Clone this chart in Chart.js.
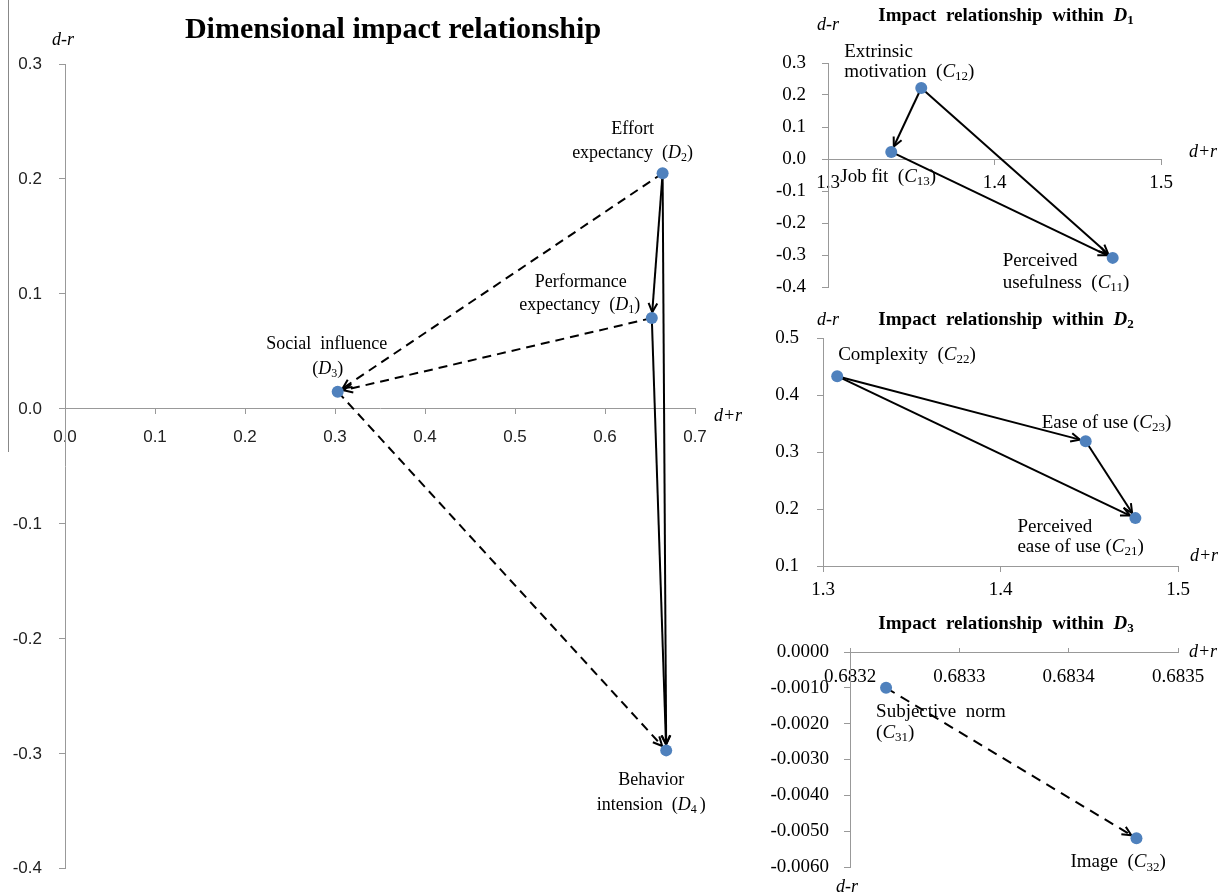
<!DOCTYPE html>
<html>
<head>
<meta charset="utf-8">
<script src="https://cdn.jsdelivr.net/npm/chart.js@4.4.1/dist/chart.umd.min.js"></script>
<style>
  html, body { margin: 0; padding: 0; background: #fff; }
  #wrap { position: relative; width: 1229px; height: 896px; overflow: hidden; background: #fff; }
  #wrap canvas { position: absolute; left: 0; top: 0; }
  #edge { position: absolute; left: 8px; top: 0; width: 1px; height: 452px; background: #888; }
</style>
</head>
<body>
<div id="wrap">
  <div id="edge"></div>
  <canvas id="mainChart" width="1229" height="896"></canvas>
  <canvas id="d1Chart" width="1229" height="896"></canvas>
  <canvas id="d2Chart" width="1229" height="896"></canvas>
  <canvas id="d3Chart" width="1229" height="896"></canvas>
</div>
<script>
// Данные: измерения D1..D4 (d+r, d-r)
const mainX = [0.652, 0.664, 0.303, 0.668];
const mainY = [0.079, 0.205, 0.015, -0.297];
const mainNames = [
    ['Performance', 'expectancy  (<i>D</i><sub>1</sub>)'],
    ['Effort', 'expectancy  (<i>D</i><sub>2</sub>)'],
    ['Social  influence', '(<i>D</i><sub>3</sub>)'],
    ['Behavior', 'intension  (<i>D</i><sub>4 </sub>)']
];
// [откуда, куда, пунктир]
const mainLinks = [[1, 0, false], [1, 3, false], [0, 3, false], [1, 2, true], [0, 2, true], [2, 3, true]];
const mainXTicks = ['0.0', '0.1', '0.2', '0.3', '0.4', '0.5', '0.6', '0.7'];
const mainYTicks = ['-0.4', '-0.3', '-0.2', '-0.1', '0.0', '0.1', '0.2', '0.3'];

// Внутри D1: C11, C12, C13
const d1X = [1.471, 1.356, 1.338];
const d1Y = [-0.309, 0.222, 0.022];
const d1Names = [
    ['Perceived', 'usefulness  (<i>C</i><sub>11</sub>)'],
    ['Extrinsic', 'motivation  (<i>C</i><sub>12</sub>)'],
    ['Job fit  (<i>C</i><sub>13</sub>)']
];
const d1Links = [[1, 2, false], [1, 0, false], [2, 0, false]];
const d1XTicks = ['1.3', '1.4', '1.5'];
const d1YTicks = ['-0.4', '-0.3', '-0.2', '-0.1', '0.0', '0.1', '0.2', '0.3'];

// Внутри D2: C21, C22, C23
const d2X = [1.476, 1.308, 1.448];
const d2Y = [0.184, 0.433, 0.319];
const d2Names = [
    ['Perceived', 'ease of use (<i>C</i><sub>21</sub>)'],
    ['Complexity  (<i>C</i><sub>22</sub>)'],
    ['Ease of use (<i>C</i><sub>23</sub>)']
];
const d2Links = [[1, 2, false], [1, 0, false], [2, 0, false]];
const d2XTicks = ['1.3', '1.4', '1.5'];
const d2YTicks = ['0.1', '0.2', '0.3', '0.4', '0.5'];

// Внутри D3: C31, C32
const d3X = [0.683233, 0.683462];
const d3Y = [-0.0010, -0.0052];
const d3Names = [
    ['Subjective  norm', '(<i>C</i><sub>31</sub>)'],
    ['Image  (<i>C</i><sub>32</sub>)']
];
const d3Links = [[0, 1, true]];
const d3XTicks = ['0.6832', '0.6833', '0.6834', '0.6835'];
const d3YTicks = ['-0.0060', '-0.0050', '-0.0040', '-0.0030', '-0.0020', '-0.0010', '0.0000'];

const W = 1229, H = 896;
const AXIS = '#999';
const SERIF = "'Liberation Serif', 'Times New Roman', serif";
const SANS = "'Liberation Sans', Arial, sans-serif";

// разбор строки с <i> и <sub>
function richParts(str) {
    const parts = [];
    const re = /<i>(.*?)<\/i>|<sub>(.*?)<\/sub>|([^<]+)/g;
    let m;
    while ((m = re.exec(str))) {
        if (m[1] !== undefined) parts.push({ t: m[1], k: 'i' });
        else if (m[2] !== undefined) parts.push({ t: m[2], k: 's' });
        else parts.push({ t: m[3], k: 'n' });
    }
    return parts;
}

function drawRich(ctx, str, x, y, size, align, bold) {
    const parts = richParts(str);
    const b = bold ? 'bold ' : '';
    const fontOf = k => {
        if (k === 'i') return `italic ${b}${size}px ${SERIF}`;
        if (k === 's') return `${b}${Math.round(size * 0.68)}px ${SERIF}`;
        return `${b}${size}px ${SERIF}`;
    };
    let total = 0;
    parts.forEach(p => {
        ctx.font = fontOf(p.k);
        p.w = ctx.measureText(p.t).width;
        total += p.w;
    });
    let cx = align === 'center' ? x - total / 2 : x;
    ctx.textAlign = 'left';
    ctx.textBaseline = 'middle';
    ctx.fillStyle = '#000';
    parts.forEach(p => {
        ctx.font = fontOf(p.k);
        ctx.fillText(p.t, cx, p.k === 's' ? y + size * 0.25 : y);
        cx += p.w;
    });
}

function drawArrow(ctx, x1, y1, x2, y2, dashed, dash) {
    const a = Math.atan2(y2 - y1, x2 - x1);
    const ex = x2 - Math.cos(a) * 6;
    const ey = y2 - Math.sin(a) * 6;
    ctx.save();
    ctx.strokeStyle = '#000';
    ctx.lineWidth = 2;
    ctx.setLineDash(dashed ? dash : []);
    ctx.beginPath();
    ctx.moveTo(x1, y1);
    ctx.lineTo(ex, ey);
    ctx.stroke();
    ctx.setLineDash([]);
    const h = 10, w = 0.45;
    ctx.beginPath();
    ctx.moveTo(ex - h * Math.cos(a - w), ey - h * Math.sin(a - w));
    ctx.lineTo(ex, ey);
    ctx.lineTo(ex - h * Math.cos(a + w), ey - h * Math.sin(a + w));
    ctx.stroke();
    ctx.restore();
}

// плагин: стрелки, подписи точек, заголовки
function makeNotes(cfg) {
    return {
        id: 'notes',
        beforeDatasetsDraw(chart) {
            const pts = chart.getDatasetMeta(0).data;
            cfg.links.forEach(([a, b, dashed]) => {
                drawArrow(chart.ctx, pts[a].x, pts[a].y, pts[b].x, pts[b].y, dashed, cfg.dash);
            });
        },
        afterDatasetsDraw(chart) {
            const ctx = chart.ctx;
            const pts = chart.getDatasetMeta(0).data;
            cfg.names.forEach((lines, i) => {
                lines.forEach((line, j) => {
                    const [dx, dy] = cfg.labelPos[i][j];
                    drawRich(ctx, line, pts[i].x + dx, pts[i].y + dy, cfg.labelSize, cfg.align, false);
                });
            });
            cfg.texts.forEach(t => drawRich(ctx, t.text, t.x, t.y, t.size, 'center', t.bold));
        }
    };
}

function makeChart(id, cfg) {
    const ctx = document.getElementById(id).getContext('2d');
    const [left, top, right, bottom] = cfg.area;
    return new Chart(ctx, {
        type: 'scatter',
        data: {
            datasets: [{
                data: cfg.xs.map((x, i) => ({ x: x, y: cfg.ys[i] })),
                pointRadius: 6,
                pointHoverRadius: 6,
                backgroundColor: '#4F81BD',
                borderColor: '#4F81BD',
                borderWidth: 0
            }]
        },
        options: {
            responsive: false,
            animation: false,
            events: [],
            layout: { padding: { left: left - cfg.yWidth, top: top, right: W - right, bottom: H - bottom } },
            plugins: { legend: { display: false }, tooltip: { enabled: false } },
            scales: {
                x: {
                    type: 'linear',
                    min: cfg.xMin, max: cfg.xMax,
                    position: { y: cfg.xAt },
                    grid: { drawOnChartArea: false, drawTicks: true, tickLength: cfg.xTickLen, color: AXIS },
                    border: { color: AXIS },
                    ticks: {
                        stepSize: cfg.xStep, autoSkip: false, maxRotation: 0,
                        padding: cfg.xPad, color: cfg.tickColor, font: cfg.tickFont,
                        callback: (v, i) => cfg.xTicks[i]
                    }
                },
                y: {
                    type: 'linear',
                    min: cfg.yMin, max: cfg.yMax,
                    position: 'left',
                    afterFit: s => { s.width = cfg.yWidth; },
                    grid: { drawOnChartArea: false, drawTicks: true, tickLength: 6, color: AXIS },
                    border: { color: AXIS },
                    ticks: {
                        stepSize: cfg.yStep, autoSkip: false,
                        padding: cfg.yPad, color: cfg.tickColor, font: cfg.tickFont,
                        callback: (v, i) => cfg.yTicks[i]
                    }
                }
            }
        },
        plugins: [makeNotes(cfg)]
    });
}

makeChart('mainChart', {
    xs: mainX, ys: mainY, names: mainNames, links: mainLinks,
    xTicks: mainXTicks, yTicks: mainYTicks,
    xMin: 0, xMax: 0.7, xStep: 0.1, xAt: 0,
    yMin: -0.4, yMax: 0.3, yStep: 0.1,
    area: [65, 64, 695, 885], yWidth: 60,
    xTickLen: 5, xPad: 13, yPad: 17,
    tickFont: { family: SANS, size: 17 }, tickColor: '#222',
    dash: [9, 6], labelSize: 18, align: 'center',
    labelPos: [
        [[-71, -36], [-72, -13]],
        [[-30, -44], [-30, -20]],
        [[-11, -47], [-10, -22]],
        [[-15, 30], [-15, 55]]
    ],
    texts: [
        { text: 'Dimensional impact relationship', x: 393, y: 30, size: 30, bold: true },
        { text: '<i>d-r</i>', x: 63, y: 40, size: 18 },
        { text: '<i>d+r</i>', x: 728, y: 416, size: 18 }
    ]
});

makeChart('d1Chart', {
    xs: d1X, ys: d1Y, names: d1Names, links: d1Links,
    xTicks: d1XTicks, yTicks: d1YTicks,
    xMin: 1.3, xMax: 1.5, xStep: 0.1, xAt: 0,
    yMin: -0.4, yMax: 0.3, yStep: 0.1,
    area: [828, 63, 1161, 287], yWidth: 100,
    xTickLen: 5, xPad: 8, yPad: 16,
    tickFont: { family: SERIF, size: 19 }, tickColor: '#000',
    dash: [9, 6], labelSize: 19, align: 'left',
    labelPos: [
        [[-110, 3], [-110, 25]],
        [[-77, -36], [-77, -16]],
        [[-51, 25]]
    ],
    texts: [
        { text: 'Impact  relationship  within  <i>D</i><sub>1</sub>', x: 1006, y: 16, size: 19, bold: true },
        { text: '<i>d-r</i>', x: 828, y: 25, size: 18 },
        { text: '<i>d+r</i>', x: 1203, y: 152, size: 18 }
    ]
});

makeChart('d2Chart', {
    xs: d2X, ys: d2Y, names: d2Names, links: d2Links,
    xTicks: d2XTicks, yTicks: d2YTicks,
    xMin: 1.3, xMax: 1.5, xStep: 0.1, xAt: 0.1,
    yMin: 0.1, yMax: 0.5, yStep: 0.1,
    area: [823, 338, 1178, 566], yWidth: 100,
    xTickLen: 5, xPad: 8, yPad: 18,
    tickFont: { family: SERIF, size: 19 }, tickColor: '#000',
    dash: [9, 6], labelSize: 19, align: 'left',
    labelPos: [
        [[-118, 9], [-118, 29]],
        [[1, -21]],
        [[-44, -18]]
    ],
    texts: [
        { text: 'Impact  relationship  within  <i>D</i><sub>2</sub>', x: 1006, y: 320, size: 19, bold: true },
        { text: '<i>d-r</i>', x: 828, y: 320, size: 18 },
        { text: '<i>d+r</i>', x: 1204, y: 556, size: 18 }
    ]
});

makeChart('d3Chart', {
    xs: d3X, ys: d3Y, names: d3Names, links: d3Links,
    xTicks: d3XTicks, yTicks: d3YTicks,
    xMin: 0.6832, xMax: 0.6835, xStep: 0.0001, xAt: 0,
    yMin: -0.006, yMax: 0, yStep: 0.001,
    area: [850, 652, 1178, 867], yWidth: 110,
    xTickLen: -5, xPad: 19, yPad: 15,
    tickFont: { family: SERIF, size: 19 }, tickColor: '#000',
    dash: [10, 7], labelSize: 19, align: 'left',
    labelPos: [
        [[-10, 24], [-10, 45]],
        [[-66, 24]]
    ],
    texts: [
        { text: 'Impact  relationship  within  <i>D</i><sub>3</sub>', x: 1006, y: 624, size: 19, bold: true },
        { text: '<i>d+r</i>', x: 1203, y: 652, size: 18 },
        { text: '<i>d-r</i>', x: 847, y: 887, size: 18 }
    ]
});
</script>
</body>
</html>
